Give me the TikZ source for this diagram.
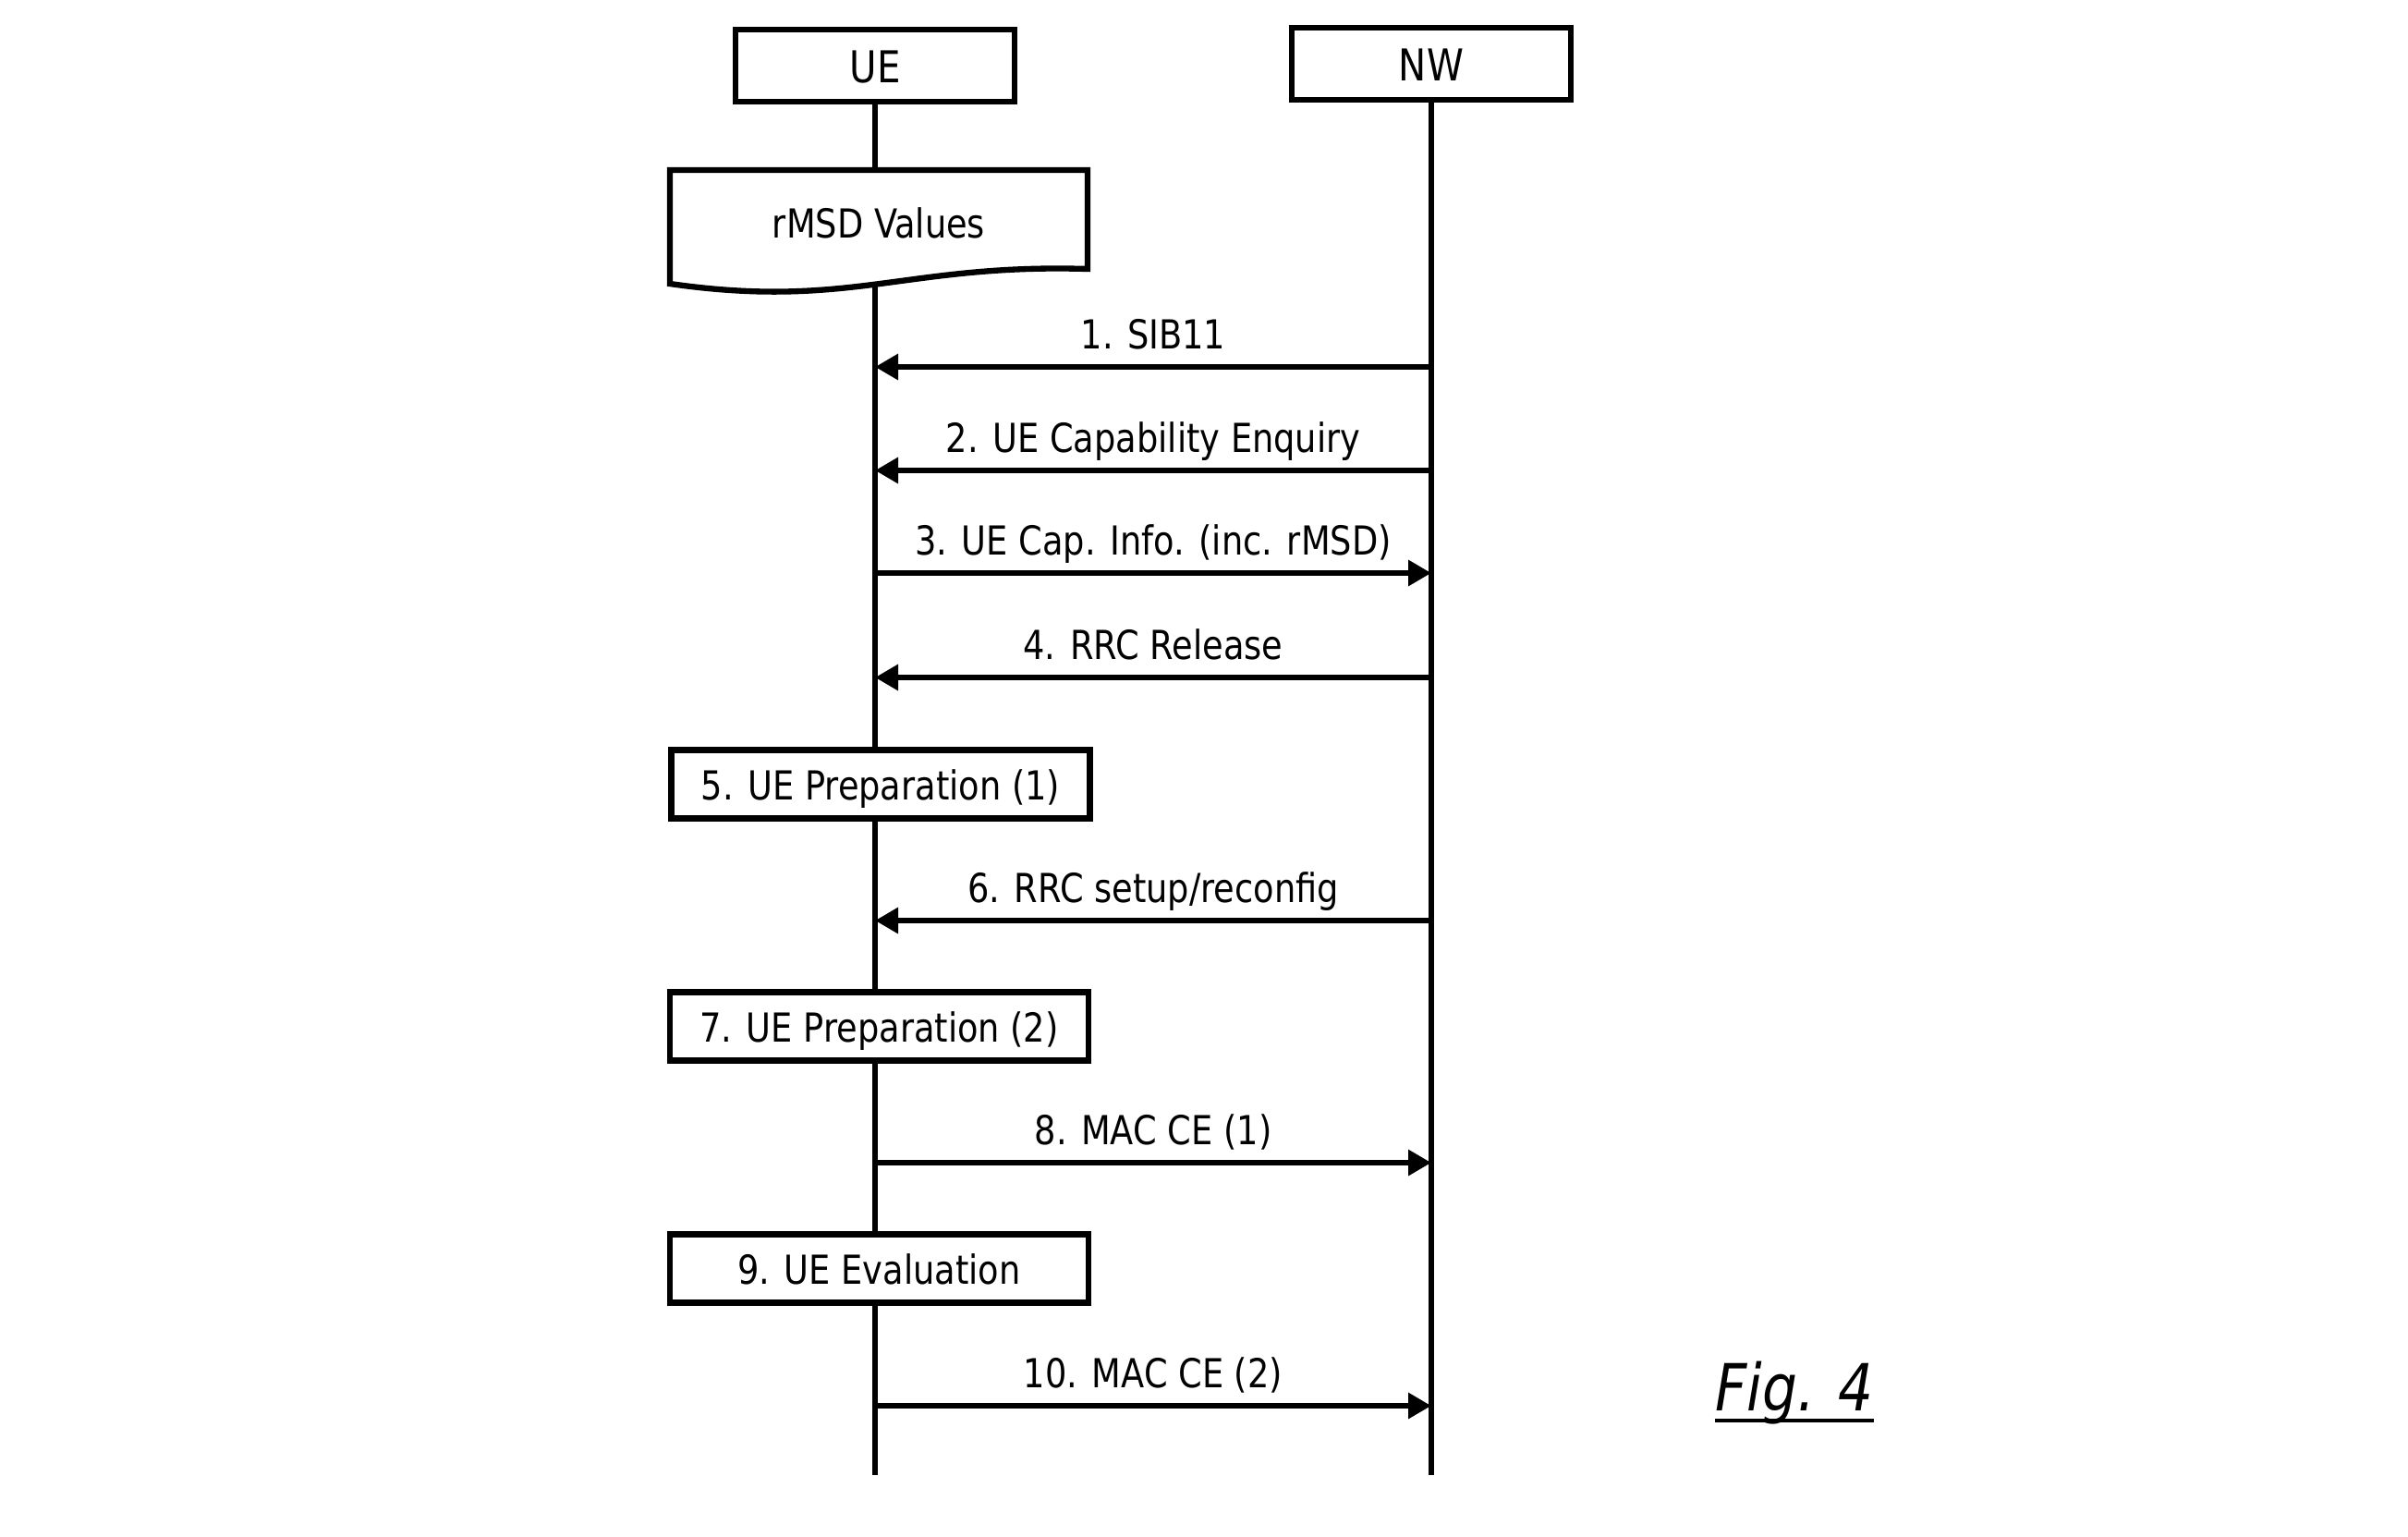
\documentclass[tikz,border=0pt]{standalone}
\usepackage{fontspec}
\setmainfont[FakeStretch=0.85]{DejaVu Sans}
\usetikzlibrary{arrows.meta,backgrounds}
\begin{document}
\begin{tikzpicture}[x=1cm,y=1cm,
 lifeline/.style={line width=1.8pt},
 actor/.style={draw, line width=1.8pt, fill=white, minimum width=3.02cm, minimum height=0.78cm, inner sep=0pt, text height=0.36cm, text depth=0pt, font=\fontsize{13.5}{16}\selectfont},
 stepbox/.style={draw, line width=1.8pt, fill=white, minimum width=4.53cm, minimum height=0.74cm, inner sep=0pt, text height=0.33cm, text depth=0pt, font=\fontsize{12.3}{15}\selectfont},
 docshape/.style={draw, line width=1.8pt, fill=white},
 msg/.style={line width=1.9pt, -{Triangle[length=0.25cm,width=0.27cm]}},
 lbl/.style={anchor=base, inner sep=0pt, yshift=0.2cm, font=\fontsize{12.3}{15}\selectfont}]
\useasboundingbox (0,0) rectangle (26.06,-16.62);
% actors
\node[actor] (ue) at (9.47,-0.71) {UE};
\node[actor] (nw) at (15.49,-0.69) {NW};
\coordinate (ueend) at (9.47,-15.96);
\coordinate (nwend) at (15.49,-15.96);
% document shape
\draw[docshape] (7.25,-1.84) -- (11.77,-1.84) -- (11.77,-2.91)
  .. controls (9.8,-2.85) and (9.2,-3.35) .. (7.25,-3.07) -- cycle;
\node[inner sep=0pt, text height=0.33cm, text depth=0pt, font=\fontsize{12.3}{15}\selectfont] (rmsd) at (9.51,-2.41) {rMSD Values};
% step boxes
\node[stepbox] (s5) at (9.53,-8.485) {5. UE Preparation (1)};
\node[stepbox] (s7) at (9.515,-11.105) {7. UE Preparation (2)};
\node[stepbox] (s9) at (9.515,-13.725) {9. UE Evaluation};
% lifelines
\begin{pgfonlayer}{background}
\draw[lifeline] (ue.south) -- (ue.south |- ueend);
\draw[lifeline] (nw.south) -- (nw.south |- nwend);
\end{pgfonlayer}
% messages
\coordinate (m1) at (0,-3.97);
\coordinate (m2) at (0,-5.09);
\coordinate (m3) at (0,-6.20);
\coordinate (m4) at (0,-7.33);
\coordinate (m6) at (0,-9.96);
\coordinate (m8) at (0,-12.58);
\coordinate (m10) at (0,-15.21);
\draw[msg] (nw |- m1) -- node[lbl] {1. SIB11} (ue |- m1);
\draw[msg] (nw |- m2) -- node[lbl] {2. UE Capability Enquiry} (ue |- m2);
\draw[msg] (ue |- m3) -- node[lbl] {3. UE Cap. Info. (inc. rMSD)} (nw |- m3);
\draw[msg] (nw |- m4) -- node[lbl] {4. RRC Release} (ue |- m4);
\draw[msg] (nw |- m6) -- node[lbl] {6. RRC setup/reconfig} (ue |- m6);
\draw[msg] (ue |- m8) -- node[lbl] {8. MAC CE (1)} (nw |- m8);
\draw[msg] (ue |- m10) -- node[lbl] {10. MAC CE (2)} (nw |- m10);
% figure label
\node[anchor=base, inner sep=0pt, font=\fontsize{20}{24}\selectfont\itshape] (fig) at (19.42,-15.26) {Fig. 4};
\draw[line width=1.4pt] ([yshift=-0.11cm]fig.base west) -- ([yshift=-0.11cm]fig.base east);
\end{tikzpicture}
\end{document}
